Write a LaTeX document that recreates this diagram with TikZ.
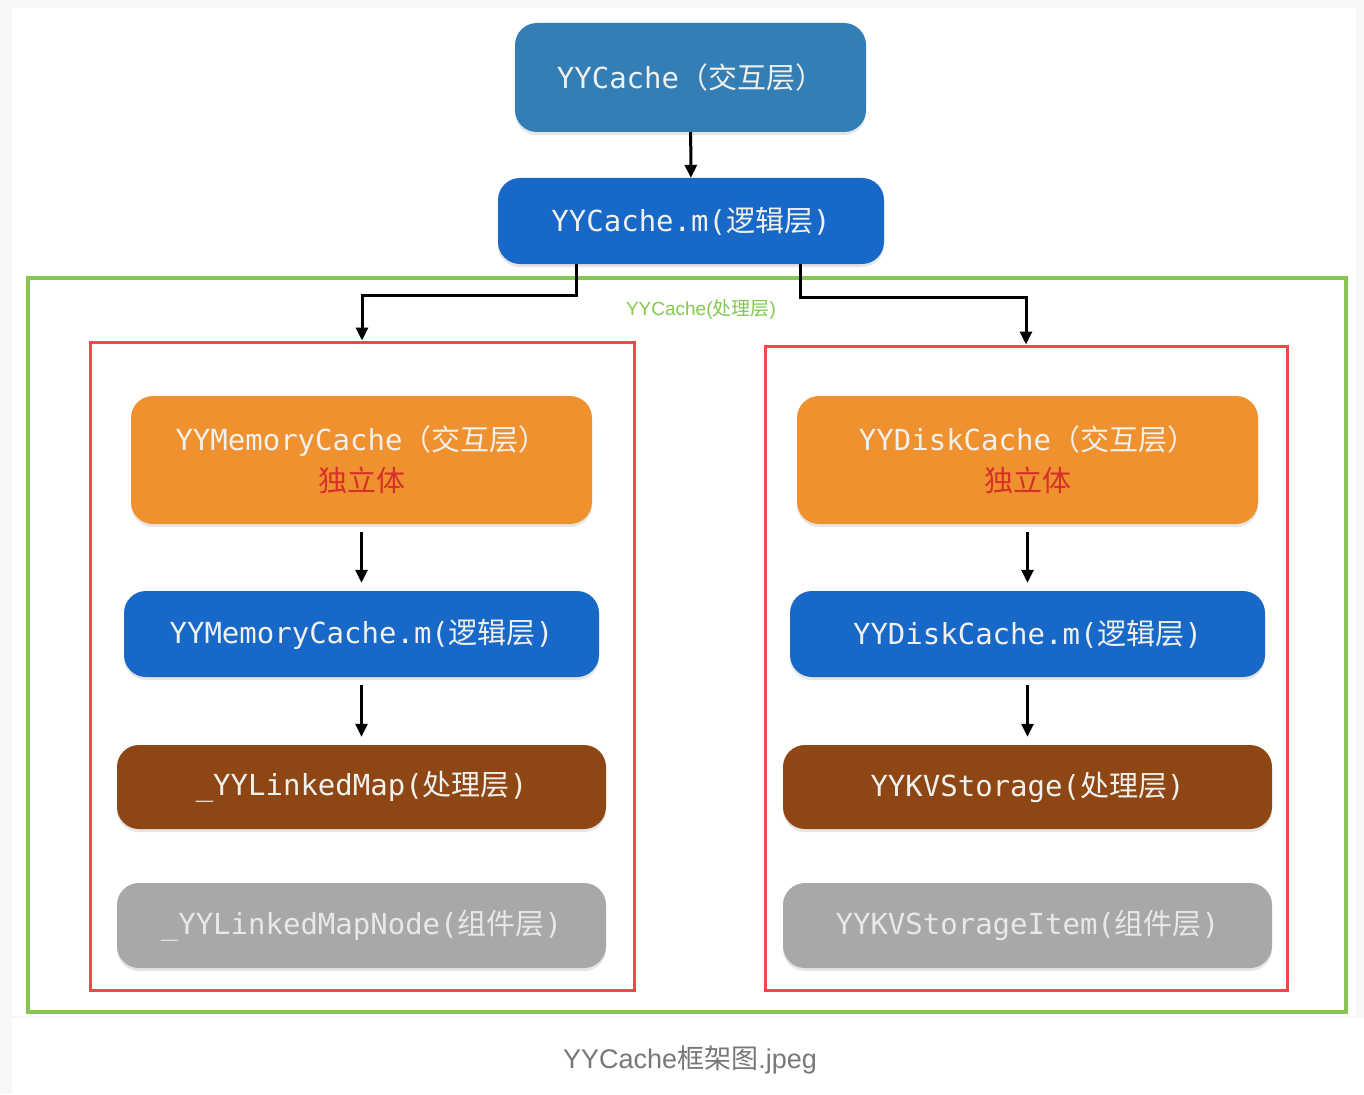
\documentclass[tikz,border=0pt]{standalone}
\usepackage{fontspec}
\setmainfont{Liberation Sans}
\newfontfamily\monofont{DejaVu Sans Mono}
\newfontfamily\cjk{Noto Sans CJK SC}
\usetikzlibrary{arrows.meta, positioning, shadows}
\definecolor{pagegray}{RGB}{247,247,247}
\definecolor{cacheblue}{RGB}{52,126,182}
\definecolor{logicblue}{RGB}{24,104,200}
\definecolor{ifaceorange}{RGB}{240,145,48}
\definecolor{procbrown}{RGB}{142,70,20}
\definecolor{compgray}{RGB}{168,168,168}
\definecolor{boxtext}{RGB}{240,240,236}
\definecolor{graytext}{RGB}{232,232,232}
\definecolor{indepred}{RGB}{214,48,40}
\definecolor{groupred}{RGB}{240,72,72}
\definecolor{procgreen}{RGB}{136,198,84}
\definecolor{labelgreen}{RGB}{130,200,80}
\definecolor{captiongray}{RGB}{120,120,120}
\newcommand{\zh}[1]{{\cjk #1}}
\tikzset{
  layer/.style={rectangle, rounded corners=22pt, minimum height=86pt,
    inner sep=0pt, align=center, text=boxtext,
    font=\fontsize{29}{41}\selectfont\monofont,
    drop shadow={shadow xshift=0pt, shadow yshift=-3pt, opacity=0.2}},
  group/.style={rectangle, draw=groupred, line width=3pt, inner sep=0pt},
  procframe/.style={rectangle, draw=procgreen, line width=3.5pt, inner sep=0pt},
  arrow/.style={-{Triangle[length=13pt, width=12pt]}, line width=3pt, color=black},
  gaparrow/.style={arrow, shorten <=8pt, shorten >=8pt}
}

\begin{document}
\begin{tikzpicture}[x=1pt, y=-1pt]
  \useasboundingbox (0,0) rectangle (1364,1094);
  % Page background
  \fill[pagegray] (0,0) rectangle (1364,1094);
  \fill[white] (12,8) rectangle (1356,1016);
  \fill[white] (12,1018) rectangle (1364,1094);

  % Interaction and logic layer of YYCache
  \node[layer, fill=cacheblue, minimum width=351pt, minimum height=109pt] (cache) at (690.5,77.5) {YYCache\zh{（交互层）}};
  \node[layer, fill=logicblue, minimum width=386pt] (cachem) at (691,221) {YYCache.m(\zh{逻辑层})};
  \draw[arrow] (cache) -- (cachem);

  % Processing layer frame
  \node[procframe, minimum width=1318pt, minimum height=734pt] (proc) at (687,645) {};
  \node[font=\fontsize{19}{22}\selectfont, text=labelgreen] (proclabel) at (701,310) {YYCache(\zh{处理层})};

  % Memory and disk groups
  \node[group, minimum width=544pt, minimum height=648pt] (memgroup) at (362,666) {};
  \node[group, minimum width=522pt, minimum height=644pt] (diskgroup) at (1026,668) {};
  \draw[arrow] ([xshift=-115pt]cachem.south) -- ++(0,31) -| (memgroup.north);
  \draw[arrow] ([xshift=109pt]cachem.south) -- ++(0,33) -| (diskgroup.north);

  % Memory branch
  \node[layer, fill=ifaceorange, minimum width=461pt, minimum height=128pt] (memcache) at (361.5,460) {YYMemoryCache\zh{（交互层）}\\\textcolor{indepred}{\zh{独立体}}};
  \node[layer, fill=logicblue, minimum width=475pt] (memcachem) at (361.5,634) {YYMemoryCache.m(\zh{逻辑层})};
  \node[layer, fill=procbrown, minimum width=489pt, minimum height=84pt] (linkedmap) at (361.5,787) {\_YYLinkedMap(\zh{处理层})};
  \node[layer, fill=compgray, text=graytext, minimum width=489pt, minimum height=85pt] (mapnode) at (361.5,925.5) {\_YYLinkedMapNode(\zh{组件层})};
  \draw[gaparrow] (memcache) -- (memcachem);
  \draw[gaparrow] (memcachem) -- (linkedmap);

  % Disk branch
  \node[layer, fill=ifaceorange, minimum width=461pt, minimum height=128pt] (diskcache) at (1027.5,460) {YYDiskCache\zh{（交互层）}\\\textcolor{indepred}{\zh{独立体}}};
  \node[layer, fill=logicblue, minimum width=475pt] (diskcachem) at (1027.5,634) {YYDiskCache.m(\zh{逻辑层})};
  \node[layer, fill=procbrown, minimum width=489pt, minimum height=84pt] (kvstorage) at (1027.5,787) {YYKVStorage(\zh{处理层})};
  \node[layer, fill=compgray, text=graytext, minimum width=489pt, minimum height=85pt] (kvitem) at (1027.5,925.5) {YYKVStorageItem(\zh{组件层})};
  \draw[gaparrow] (diskcache) -- (diskcachem);
  \draw[gaparrow] (diskcachem) -- (kvstorage);

  % Caption
  \node[font=\fontsize{27}{30}\selectfont, text=captiongray] (caption) at (690,1060) {YYCache\zh{框架图}.jpeg};
\end{tikzpicture}
\end{document}
